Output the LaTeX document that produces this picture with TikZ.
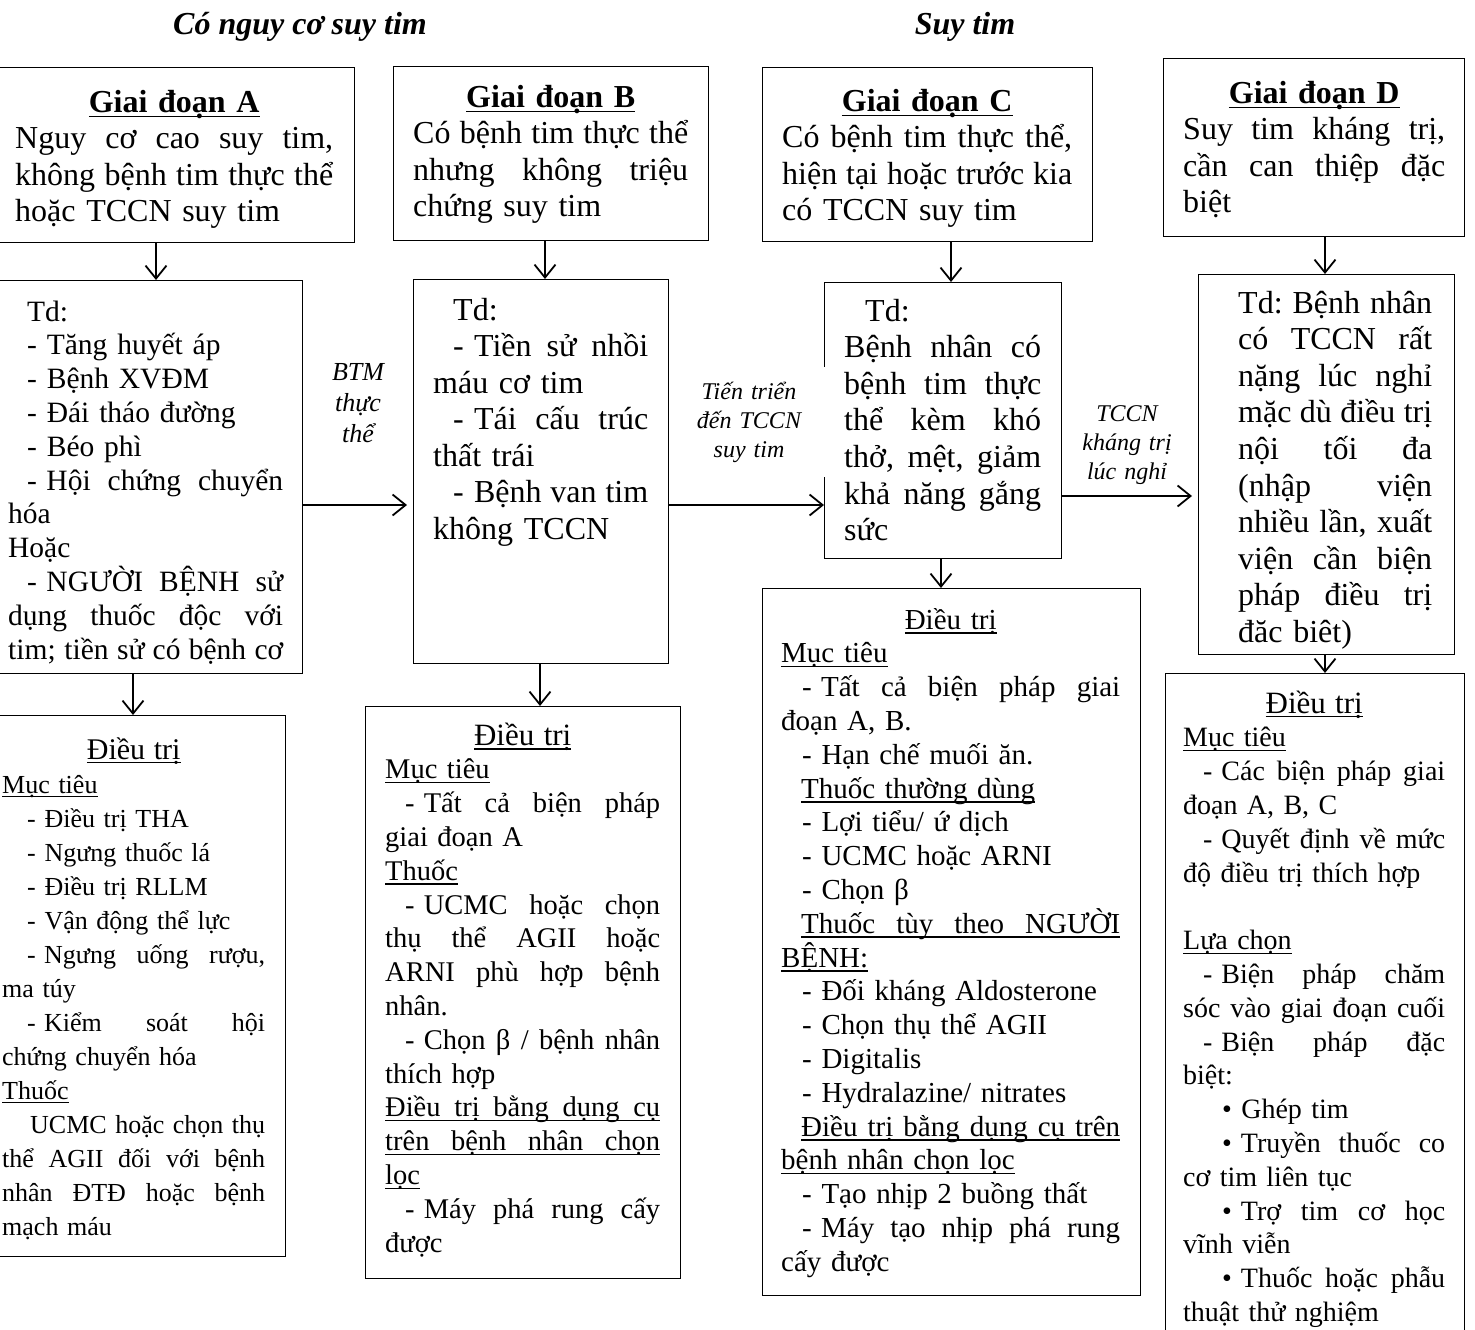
\documentclass[tikz,border=0pt]{standalone}
\usepackage{fontspec}
\setmainfont{Liberation Serif}
\usetikzlibrary{arrows.meta}

% a line stretched to the full width / a line at natural width
\newcommand\jsp{\spaceskip=.25em plus 1fil minus .05em\xspaceskip=\spaceskip}
\newcommand\jl[2][0pt]{\leavevmode\hbox to\linewidth{\jsp\kern#1#2}}
\newcommand\lf[2][0pt]{\leavevmode\hbox{\kern#1#2}}
\newcommand\ctr[1]{\leavevmode\hbox to\linewidth{\hfil#1\hfil}}
\newcommand\undl[1]{\setbox0\hbox{#1}\rlap{\rule[-0.16em]{\wd0}{0.05em}}\box0}
\newcommand\jlu[2][0pt]{\leavevmode\hbox to\linewidth{\jsp\kern#1\undl{\hbox to\dimexpr\linewidth-#1\relax{#2}}}}
\newcommand\dsh{-\kern.32em\relax}
\newcommand\bul{•\kern.32em\relax}
\lineskiplimit=-100pt
\parindent=0pt

\begin{document}
\begin{tikzpicture}[x=1pt, y=-1pt,
    frame/.style={draw, line width=1.3pt, inner sep=0pt, anchor=north west},
    txt/.style={inner sep=0pt, anchor=base west},
    big/.style={font=\fontsize{32}{36.6}\selectfont},
    arr/.style={line width=1.8pt, -{Straight Barb[length=13pt, width=21pt]}},
    lbl/.style={inner sep=0pt, anchor=base, align=center, font=\itshape\fontsize{24}{29}\selectfont}]

    \useasboundingbox (0,0) rectangle (1475,1330);

    \node[inner sep=0pt, anchor=base, font=\bfseries\itshape\fontsize{32}{37}\selectfont] (ttlRisk) at (300,35) {Có nguy cơ suy tim};
    \node[inner sep=0pt, anchor=base, font=\bfseries\itshape\fontsize{32}{37}\selectfont] (ttlHF) at (965,35) {Suy tim};

    % stages
    \node[frame, minimum width=357, minimum height=175] (stA) at (-3,67) {};
    \node[frame, minimum width=315, minimum height=174] (stB) at (393,66) {};
    \node[frame, minimum width=330, minimum height=174] (stC) at (762,67) {};
    \node[frame, minimum width=301, minimum height=178] (stD) at (1163,58) {};

    \node[txt, big, text width=318] (stAt) at (15,112) {\ctr{\undl{\bfseries Giai đoạn A}}\\
        \jl{Nguy cơ cao suy tim,}\\
        \jl{không bệnh tim thực thể}\\
        \lf{hoặc TCCN suy tim}};
    \node[txt, big, text width=275] (stBt) at (413,107) {\ctr{\undl{\bfseries Giai đoạn B}}\\
        \jl{Có bệnh tim thực thể}\\
        \jl{nhưng không triệu}\\
        \lf{chứng suy tim}};
    \node[txt, big, text width=290] (stCt) at (782,111) {\ctr{\undl{\bfseries Giai đoạn C}}\\
        \jl{Có bệnh tim thực thể,}\\
        \jl{hiện tại hoặc trước kia}\\
        \lf{có TCCN suy tim}};
    \node[txt, big, text width=262] (stDt) at (1183,103) {\ctr{\undl{\bfseries Giai đoạn D}}\\
        \jl{Suy tim kháng trị,}\\
        \jl{cần can thiệp đặc}\\
        \lf{biệt}};

    % examples
    \node[frame, minimum width=305, minimum height=393] (tdA) at (-3,280) {};
    \node[frame, minimum width=255, minimum height=384] (tdB) at (413,279) {};
    \node[frame, minimum width=237, minimum height=276] (tdC) at (824,282) {};
    \node[frame, minimum width=256, minimum height=380] (tdD) at (1198,274) {};

    \node[txt, font=\fontsize{29.5}{33.8}\selectfont, text width=275] (tdAt) at (8,321) {\lf[19pt]{Td:}\\
        \lf[19pt]{- Tăng huyết áp}\\
        \lf[19pt]{- Bệnh XVĐM}\\
        \lf[19pt]{- Đái tháo đường}\\
        \lf[19pt]{- Béo phì}\\
        \jl[19pt]{\dsh Hội chứng chuyển}\\
        \lf{hóa}\\
        \lf{Hoặc}\\
        \jl[19pt]{\dsh NGƯỜI BỆNH sử}\\
        \jl{dụng thuốc độc với}\\
        \jl{tim; tiền sử có bệnh cơ}};
    \node[txt, font=\fontsize{32}{36.5}\selectfont, text width=215] (tdBt) at (433,320) {\lf[20pt]{Td:}\\
        \jl[20pt]{\dsh Tiền sử nhồi}\\
        \lf{máu cơ tim}\\
        \jl[20pt]{\dsh Tái cấu trúc}\\
        \lf{thất trái}\\
        \jl[20pt]{\dsh Bệnh van tim}\\
        \lf{không TCCN}};
    \node[txt, big, text width=197] (tdCt) at (844,321) {\lf[21pt]{Td:}\\
        \jl{Bệnh nhân có}\\
        \jl{bệnh tim thực}\\
        \jl{thể kèm khó}\\
        \jl{thở, mệt, giảm}\\
        \jl{khả năng gắng}\\
        \lf{sức}};
    \node[txt, big, text width=194] (tdDt) at (1238,313) {\jl{Td: Bệnh nhân}\\
        \jl{có TCCN rất}\\
        \jl{nặng lúc nghỉ}\\
        \jl{mặc dù điều trị}\\
        \jl{nội tối đa}\\
        \jl{(nhập viện}\\
        \jl{nhiều lần, xuất}\\
        \jl{viện cần biện}\\
        \jl{pháp điều trị}\\
        \lf{đăc biêt)}};

    % treatment
    \node[frame, minimum width=288, minimum height=541] (dtA) at (-3,715) {};
    \node[frame, minimum width=315, minimum height=572] (dtB) at (365,706) {};
    \node[frame, minimum width=378, minimum height=707] (dtC) at (762,588) {};
    \node[frame, minimum width=299, minimum height=690] (dtD) at (1165,673) {};

    \node[txt, font=\fontsize{26}{34}\selectfont, text width=263] (dtAt) at (2,759) {\ctr{\undl{\fontsize{30}{34}\selectfont Điều trị}}\\
        \lf{\undl{Mục tiêu}}\\
        \lf[25pt]{- Điều trị THA}\\
        \lf[25pt]{- Ngưng thuốc lá}\\
        \lf[25pt]{- Điều trị RLLM}\\
        \lf[25pt]{- Vận động thể lực}\\
        \jl[25pt]{\dsh Ngưng uống rượu,}\\
        \lf{ma túy}\\
        \jl[25pt]{\dsh Kiểm soát hội}\\
        \lf{chứng chuyển hóa}\\
        \lf{\undl{Thuốc}}\\
        \jl[28pt]{UCMC hoặc chọn thụ}\\
        \jl{thể AGII đối với bệnh}\\
        \jl{nhân ĐTĐ hoặc bệnh}\\
        \lf{mạch máu}};
    \node[txt, font=\fontsize{28.5}{33.8}\selectfont, text width=275] (dtBt) at (385,745) {\ctr{\undl{\fontsize{31}{34}\selectfont Điều trị}}\\
        \lf{\undl{Mục tiêu}}\\
        \jl[20pt]{\dsh Tất cả biện pháp}\\
        \lf{giai đoạn A}\\
        \lf{\undl{Thuốc}}\\
        \jl[20pt]{\dsh UCMC hoặc chọn}\\
        \jl{thụ thể AGII hoặc}\\
        \jl{ARNI phù hợp bệnh}\\
        \lf{nhân.}\\
        \jl[20pt]{\dsh Chọn β / bệnh nhân}\\
        \lf{thích hợp}\\
        \jlu{Điều trị bằng dụng cụ}\\
        \jlu{trên bệnh nhân chọn}\\
        \lf{\undl{lọc}}\\
        \jl[20pt]{\dsh Máy phá rung cấy}\\
        \lf{được}};
    \node[txt, font=\fontsize{29}{33.8}\selectfont, text width=339] (dtCt) at (781,629) {\ctr{\undl{Điều trị}}\\
        \lf{\undl{Mục tiêu}}\\
        \jl[21pt]{\dsh Tất cả biện pháp giai}\\
        \lf{đoạn A, B.}\\
        \lf[21pt]{- Hạn chế muối ăn.}\\
        \lf[20pt]{\undl{Thuốc thường dùng}}\\
        \lf[21pt]{- Lợi tiểu/ ứ dịch}\\
        \lf[21pt]{- UCMC hoặc ARNI}\\
        \lf[21pt]{- Chọn β}\\
        \jlu[20pt]{Thuốc tùy theo NGƯỜI}\\
        \lf{\undl{BỆNH:}}\\
        \lf[21pt]{- Đối kháng Aldosterone}\\
        \lf[21pt]{- Chọn thụ thể AGII}\\
        \lf[21pt]{- Digitalis}\\
        \lf[21pt]{- Hydralazine/ nitrates}\\
        \jlu[20pt]{Điều trị bằng dụng cụ trên}\\
        \lf{\undl{bệnh nhân chọn lọc}}\\
        \lf[21pt]{- Tạo nhịp 2 buồng thất}\\
        \jl[21pt]{\dsh Máy tạo nhịp phá rung}\\
        \lf{cấy được}};
    \node[txt, font=\fontsize{28}{33.8}\selectfont, text width=262] (dtDt) at (1183,713) {\ctr{\undl{\fontsize{31}{34}\selectfont Điều trị}}\\
        \lf{\undl{Mục tiêu}}\\
        \jl[20pt]{\dsh Các biện pháp giai}\\
        \lf{đoạn A, B, C}\\
        \jl[20pt]{\dsh Quyết định về mức}\\
        \lf{độ điều trị thích hợp}\\
        \lf{}\\
        \lf{\undl{Lựa chọn}}\\
        \jl[20pt]{\dsh Biện pháp chăm}\\
        \jl{sóc vào giai đoạn cuối}\\
        \jl[20pt]{\dsh Biện pháp đặc}\\
        \lf{biệt:}\\
        \lf[39pt]{• Ghép tim}\\
        \jl[39pt]{\bul Truyền thuốc co}\\
        \lf{cơ tim liên tục}\\
        \jl[39pt]{\bul Trợ tim cơ học}\\
        \lf{vĩnh viễn}\\
        \jl[39pt]{\bul Thuốc hoặc phẫu}\\
        \lf{thuật thử nghiệm}};

    % arrow labels
    \node[lbl, font=\itshape\fontsize{26}{31}\selectfont, text width=90] (lbAB) at (358,380) {BTM\\thực\\thể};
    \node[lbl, fill=white, anchor=center, text width=156, minimum height=110] (lbBC) at (749,422) {Tiến triển\\đến TCCN\\suy tim};
    \node[lbl, text width=110] (lbCD) at (1127,421) {TCCN\\kháng trị\\lúc nghỉ};

    \coordinate (xA) at (156,0);
    \coordinate (xB) at (545,0);
    \coordinate (xC) at (951,0);
    \coordinate (xD) at (1325,0);
    \coordinate (xAt) at (133,0);
    \coordinate (xBt) at (540,0);
    \coordinate (xCt) at (941,0);
    \coordinate (rowAB) at (0,505);
    \coordinate (rowCD) at (0,496);

    \draw[arr] (stA.south -| xA) -- (tdA.north -| xA);
    \draw[arr] (stB.south -| xB) -- (tdB.north -| xB);
    \draw[arr] (stC.south -| xC) -- (tdC.north -| xC);
    \draw[arr] (stD.south -| xD) -- (tdD.north -| xD);

    \draw[arr] (tdA.south -| xAt) -- (dtA.north -| xAt);
    \draw[arr] (tdB.south -| xBt) -- (dtB.north -| xBt);
    \draw[arr] (tdC.south -| xCt) -- (dtC.north -| xCt);
    \draw[arr] (tdD.south -| xD) -- (dtD.north -| xD);

    \draw[arr, shorten >=6pt] (tdA.east |- rowAB) -- (tdB.west |- rowAB);
    \draw[arr] (tdB.east |- rowAB) -- (tdC.west |- rowAB);
    \draw[arr, shorten >=6pt] (tdC.east |- rowCD) -- (tdD.west |- rowCD);

\end{tikzpicture}
\end{document}
